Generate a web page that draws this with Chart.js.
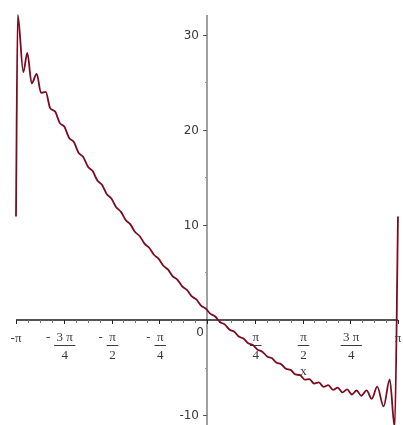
<!DOCTYPE html>
<html>
<head>
<meta charset="utf-8">
<script src="https://cdn.jsdelivr.net/npm/chart.js@4.4.1/dist/chart.umd.min.js"></script>
<style>
  html, body { margin: 0; padding: 0; background: #fff; }
  #wrap { position: relative; width: 403px; height: 425px; }
</style>
</head>
<body>
<div id="wrap"><canvas id="plot"></canvas></div>
<script>
const PI = Math.PI;

// points of the curve (x in radians)
const xs = [
  -3.1416, -3.113, -3.021, -2.956, -2.883, -2.801, -2.730, -2.653, -2.580,
  -2.500, -2.423, -2.345, -2.268, -2.190, -2.113, -2.035, -1.958, -1.880, -1.803,
  -1.725, -1.648, -1.570, -1.493, -1.415, -1.338, -1.260, -1.183, -1.105, -1.028,
  -0.950, -0.873, -0.795, -0.718, -0.640, -0.563, -0.485, -0.408, -0.330, -0.253,
  -0.175, -0.098, -0.020, 0.058, 0.135, 0.213, 0.290, 0.368, 0.445, 0.523,
  0.600, 0.678, 0.755, 0.833, 0.910, 0.988, 1.065, 1.143, 1.220, 1.298,
  1.375, 1.453, 1.530, 1.608, 1.685, 1.763, 1.840, 1.918, 1.995, 2.073,
  2.150, 2.228, 2.305, 2.383, 2.460, 2.538, 2.625, 2.710, 2.800, 2.905,
  3.005, 3.087, 3.1416
];
const ys = [
  10.9, 32.1, 26.1, 28.1, 24.9, 25.9, 23.9, 24.0, 22.3,
  21.95, 20.75, 20.33, 19.16, 18.73, 17.61, 17.16, 16.13, 15.67, 14.67,
  14.21, 13.24, 12.76, 11.86, 11.38, 10.52, 10.06, 9.26, 8.82, 8.04,
  7.60, 6.87, 6.43, 5.71, 5.30, 4.60, 4.23, 3.54, 3.17, 2.51,
  2.16, 1.52, 1.20, 0.64, 0.37, -0.21, -0.46, -1.00, -1.21, -1.74,
  -1.94, -2.45, -2.63, -3.13, -3.33, -3.83, -4.01, -4.49, -4.65, -5.13,
  -5.25, -5.72, -5.80, -6.27, -6.23, -6.69, -6.56, -7.04, -6.86, -7.35,
  -7.11, -7.61, -7.31, -7.84, -7.42, -7.97, -7.40, -8.30, -7.02, -9.10,
  -6.25, -11.3, 10.9
];

// x tick labels, positions in steps of pi/4
const xTickSteps = [-4, -3, -2, -1, 1, 2, 3, 4];
const xTickSigns = ['-', '-', '-', '-', '', '', '', ''];
const xTickNums = ['π', '3 π', 'π', 'π', 'π', 'π', '3 π', 'π'];
const xTickDens = ['', '4', '2', '4', '4', '2', '4', ''];

const yTicks = [-10, 10, 20, 30];
const yMinorTicks = [-5, 5, 15, 25];

const curveColor = '#7a0c20';

// Maple style axes crossing at the origin
const mapleAxes = {
  id: 'mapleAxes',
  beforeDatasetsDraw(chart) {
    const { ctx, chartArea: area, scales: { x, y } } = chart;
    const x0 = x.getPixelForValue(0);
    const y0 = y.getPixelForValue(0);
    ctx.save();

    const seg = (ax, ay, bx, by) => {
      ctx.beginPath();
      ctx.moveTo(ax, ay);
      ctx.lineTo(bx, by);
      ctx.stroke();
    };

    // axis lines
    ctx.lineWidth = 1.5;
    ctx.strokeStyle = '#808080';
    seg(x0, area.top, x0, area.bottom);
    ctx.strokeStyle = '#1a1a1a';
    seg(x.getPixelForValue(-PI), y0, x.getPixelForValue(PI), y0);

    // x ticks every pi/16
    ctx.lineWidth = 1;
    for (let k = -16; k <= 16; k++) {
      const px = Math.round(x.getPixelForValue(k * PI / 16)) + 0.5;
      ctx.strokeStyle = k % 4 === 0 ? '#222' : '#777';
      seg(px, y0, px, y0 + (k % 4 === 0 ? 4 : 3));
    }

    // y ticks
    ctx.strokeStyle = '#555';
    yTicks.forEach(v => {
      const py = Math.round(y.getPixelForValue(v)) + 0.5;
      seg(x0 - 4, py, x0, py);
    });
    ctx.strokeStyle = '#999';
    yMinorTicks.forEach(v => {
      const py = Math.round(y.getPixelForValue(v)) + 0.5;
      seg(x0 - 2, py, x0, py);
    });

    // y labels
    ctx.fillStyle = '#3a3a3a';
    ctx.font = '12px "DejaVu Sans"';
    ctx.textAlign = 'right';
    ctx.textBaseline = 'middle';
    yTicks.forEach(v => {
      ctx.fillText(String(v), x0 - 8, y.getPixelForValue(v) + 0.5);
    });
    ctx.textAlign = 'center';
    ctx.textBaseline = 'alphabetic';
    ctx.fillText('0', x0 - 7, y0 + 16);

    // x labels as stacked fractions
    ctx.font = '13px "Liberation Serif"';
    ctx.strokeStyle = '#3a3a3a';
    xTickSteps.forEach((s, i) => {
      const cx = x.getPixelForValue(s * PI / 4);
      const num = xTickNums[i], den = xTickDens[i], sign = xTickSigns[i];
      if (den === '') {
        ctx.textAlign = 'center';
        ctx.fillText(sign + num, cx, y0 + 22);
        return;
      }
      const w = ctx.measureText(num).width + 5;
      ctx.textAlign = 'center';
      ctx.fillText(num, cx + 1, y0 + 21);
      seg(cx - w / 2 + 1, y0 + 25.5, cx + w / 2 + 1, y0 + 25.5);
      ctx.fillText(den, cx + 1, y0 + 39);
      if (sign) ctx.fillText(sign, cx - w / 2 - 5, y0 + 21);
    });

    // axis name
    ctx.fillText('x', x.getPixelForValue(PI / 2) + 1, y0 + 55);

    ctx.restore();
  }
};

const points = xs.map((v, i) => ({ x: v, y: ys[i] }));

new Chart(document.getElementById('plot'), {
  type: 'line',
  data: {
    datasets: [{
      data: points,
      borderColor: curveColor,
      borderWidth: 1.8,
      pointRadius: 0,
      cubicInterpolationMode: 'monotone',
      clip: false
    }]
  },
  options: {
    responsive: true,
    maintainAspectRatio: false,
    animation: false,
    events: [],
    layout: { padding: { left: 16, right: 5, top: 15, bottom: 0 } },
    plugins: {
      legend: { display: false },
      tooltip: { enabled: false }
    },
    scales: {
      x: { type: 'linear', min: -PI, max: PI, display: false },
      y: { min: -11.05, max: 32.1, display: false }
    }
  },
  plugins: [mapleAxes]
});
</script>
</body>
</html>
